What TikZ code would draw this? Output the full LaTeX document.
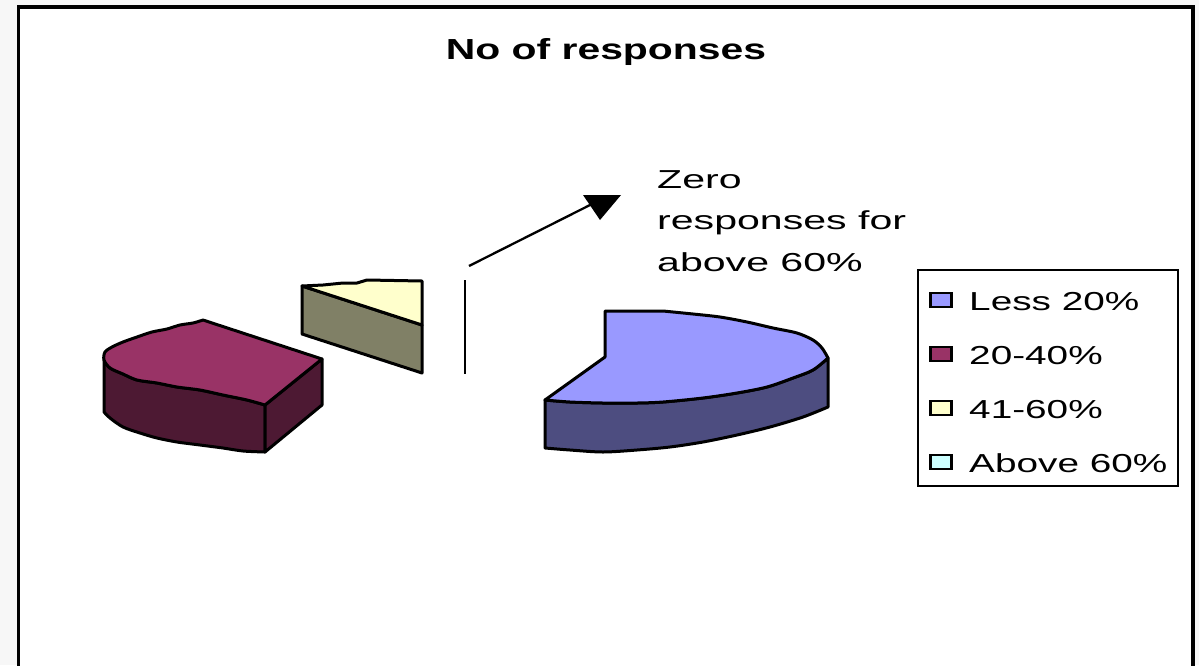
\documentclass[tikz,border=0pt]{standalone}
\usepackage{fontspec}
\setmainfont{Liberation Sans}
\usepackage{graphicx}

\definecolor{pagegray}{HTML}{F7F7F7}
\definecolor{blueTop}{HTML}{9999FF}
\definecolor{blueSide}{HTML}{4D4D80}
\definecolor{plumTop}{HTML}{993366}
\definecolor{plumSide}{HTML}{4D1933}
\definecolor{creamTop}{HTML}{FFFFCC}
\definecolor{creamSide}{HTML}{808066}
\definecolor{iceTop}{HTML}{CCFFFF}

% horizontally widened text, as the chart engine renders it
\newcommand\stretchtxt[2]{\scalebox{#1}[1]{#2}}

\tikzset{
  slice/.style={draw=black, line width=3pt, line join=round},
  legtext/.style={anchor=base west, inner sep=0pt, font=\fontsize{26}{30}\selectfont},
  legkey/.style={draw=black, line width=2.2pt, minimum width=21pt, minimum height=14pt, inner sep=0pt, anchor=center},
}

\begin{document}
\begin{tikzpicture}[x=1pt, y=-1pt]
\useasboundingbox (0,0) rectangle (1199,665);

% page and chart area
\fill[pagegray] (0,0) rectangle (1199,665);
\fill[white] (18.5,7) rectangle (1193,666);
\draw[line width=3.5pt] (18.5,668) -- (18.5,7) -- (1193,7) -- (1193,668);

% title
\node[anchor=base, inner sep=0pt, font=\bfseries\fontsize{29}{33}\selectfont] (title) at (606,59)
  {\stretchtxt{1.41}{No of responses}};

% ---------- 20-40% slice ----------
\draw[slice, fill=plumSide]
  (104,360) -- (104,412)
  -- plot[smooth] coordinates {(104,412) (110,418) (123,427) (140,433) (157,438) (177,442) (200,445) (223,448) (243,451) (265,452)}
  -- (265,405)
  -- plot[smooth] coordinates {(265,405) (247,400) (223,395) (200,390) (177,387) (157,383) (137,380) (123,374) (110,368) (104,360)}
  -- cycle;
\draw[slice, fill=plumSide] (265,405) -- (322,359) -- (322,405) -- (265,452) -- cycle;
\draw[slice, fill=plumTop]
  (203,320) -- (322,359) -- (265,405)
  -- plot[smooth] coordinates {(265,405) (247,400) (223,395) (200,390) (177,387) (157,383) (137,380) (123,374) (110,368) (104,360) (105,352) (112,347) (123,342) (137,337) (152,332) (167,329) (180,325) (193,323) (203,320)}
  -- cycle;

% ---------- 41-60% slice ----------
\draw[slice, fill=creamSide] (302,286) -- (422,325) -- (422,373) -- (302,334) -- cycle;
\draw[slice, fill=creamTop]
  (302,286) -- (323,285) -- (343,283) -- (357,283) -- (367,280) -- (422,281) -- (422,325) -- cycle;

% ---------- Less 20% slice ----------
\draw[slice, fill=blueSide]
  (545,400) -- (545,448)
  -- plot[smooth] coordinates {(545,448) (570,450) (603,452) (637,450) (670,447) (703,442) (737,435) (770,427) (803,417) (828,407)}
  -- (828,358)
  -- plot[smooth] coordinates {(828,358) (813,370) (793,378) (767,387) (737,393) (703,398) (663,402) (637,403) (603,403) (570,402) (545,400)}
  -- cycle;
\draw[slice, fill=blueTop]
  (545,400) -- (605,357) -- (605,311) -- (663,311)
  -- plot[smooth] coordinates {(663,311) (693,314) (720,317) (747,322) (773,328) (797,333) (813,340) (822,348) (828,358)}
  -- plot[smooth] coordinates {(828,358) (813,370) (793,378) (767,387) (737,393) (703,398) (663,402) (637,403) (603,403) (570,402) (545,400)}
  -- cycle;

% ---------- empty slice marker and callout ----------
\coordinate (gapTop) at (465,280);
\coordinate (gapBot) at (465,374);
\draw[line width=2.8pt] (gapTop) -- (gapBot);

\coordinate (calloutStart) at (469,266);
\coordinate (calloutEnd) at (592,204);
\draw[line width=2.3pt] (calloutStart) -- (calloutEnd);
\fill (583,195) -- (621,195) -- (600,220) -- cycle;

\node[anchor=base west, inner sep=0pt, font=\fontsize{26}{41.5}\selectfont] (note) at (657,188)
  {\stretchtxt{1.58}{\begin{tabular}[t]{@{}l@{}}Zero\\responses for\\above 60\%\end{tabular}}};

% ---------- legend ----------
\draw[line width=2.5pt, fill=white] (918,270) rectangle (1178,486);
\node[legkey, fill=blueTop]  (k1) at (941,300) {};
\node[legkey, fill=plumTop]  (k2) at (941,354) {};
\node[legkey, fill=creamTop] (k3) at (941,408) {};
\node[legkey, fill=iceTop]   (k4) at (941,462) {};
\node[legtext] (l1) at (969,310) {\stretchtxt{1.49}{Less 20\%}};
\node[legtext] (l2) at (969,364) {\stretchtxt{1.49}{20-40\%}};
\node[legtext] (l3) at (969,418) {\stretchtxt{1.49}{41-60\%}};
\node[legtext] (l4) at (969,472) {\stretchtxt{1.49}{Above 60\%}};
\end{tikzpicture}
\end{document}
